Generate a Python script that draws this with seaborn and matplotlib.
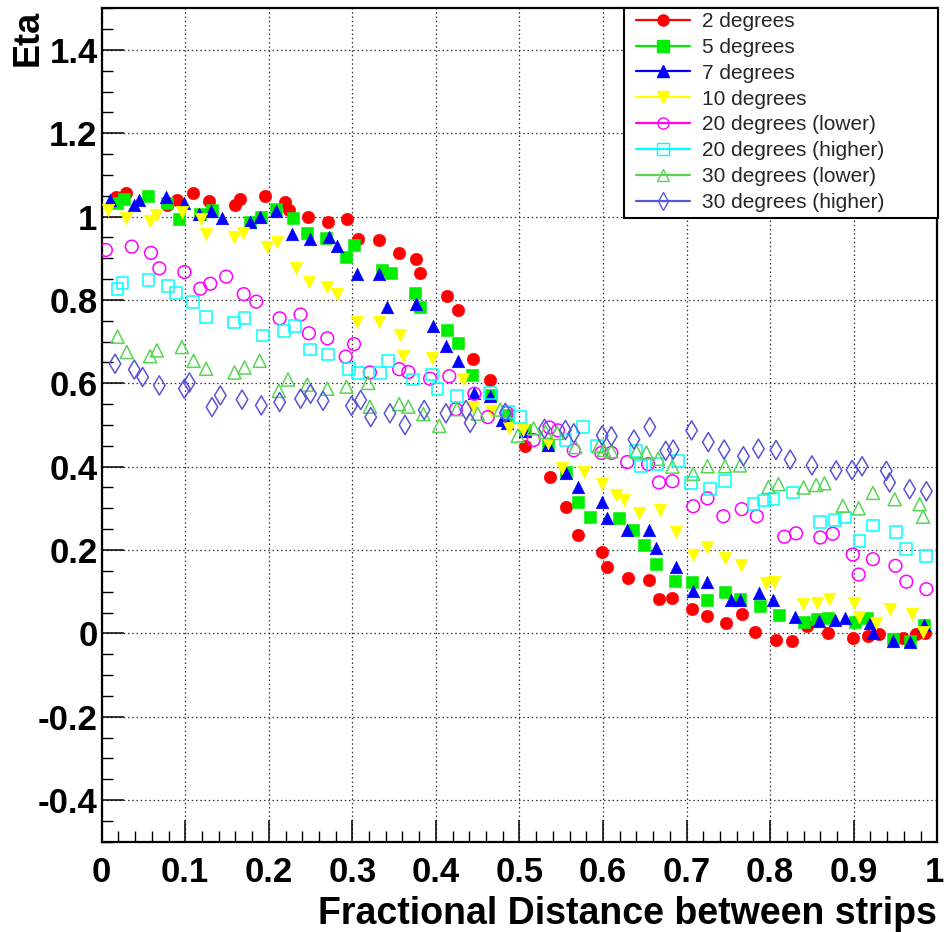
import matplotlib
matplotlib.use("Agg")
import matplotlib.pyplot as plt
from matplotlib.lines import Line2D
from matplotlib.patches import Rectangle
from matplotlib.ticker import MultipleLocator, FuncFormatter
from matplotlib.transforms import ScaledTranslation
import pandas as pd
import seaborn as sns

# Eta versus fractional distance between strips, for several incidence angles
x_2deg = [0.017, 0.029, 0.078, 0.090, 0.109, 0.129, 0.160, 0.166, 0.195, 0.219, 0.224, 0.247, 0.271, 0.293, 0.307,
          0.332, 0.356, 0.376, 0.381, 0.413, 0.427, 0.444, 0.465, 0.507, 0.536, 0.556, 0.570, 0.599, 0.605, 0.630,
          0.655, 0.667, 0.683, 0.706, 0.725, 0.747, 0.766, 0.782, 0.807, 0.826, 0.844, 0.869, 0.899, 0.917, 0.930,
          0.959, 0.975, 0.985]
y_2deg = [1.046, 1.056, 1.028, 1.040, 1.056, 1.038, 1.028, 1.042, 1.050, 1.034, 1.016, 1.000, 0.988, 0.994, 0.947,
          0.944, 0.912, 0.898, 0.864, 0.810, 0.775, 0.659, 0.609, 0.449, 0.374, 0.304, 0.235, 0.196, 0.160, 0.132,
          0.128, 0.083, 0.086, 0.058, 0.042, 0.026, 0.046, 0.004, -0.015, -0.018, 0.017, 0.002, -0.010, -0.006, -0.002,
          -0.010, -0.002, 0.001]

x_5deg = [0.018, 0.027, 0.056, 0.078, 0.093, 0.118, 0.132, 0.178, 0.191, 0.209, 0.229, 0.246, 0.269, 0.292, 0.302,
          0.335, 0.346, 0.375, 0.381, 0.413, 0.426, 0.443, 0.466, 0.485, 0.507, 0.534, 0.556, 0.570, 0.585, 0.619,
          0.636, 0.649, 0.663, 0.686, 0.706, 0.724, 0.746, 0.764, 0.788, 0.811, 0.840, 0.856, 0.869, 0.902, 0.916,
          0.947, 0.967, 0.984]
y_5deg = [1.032, 1.042, 1.049, 1.033, 0.994, 1.006, 1.017, 0.988, 1.000, 1.018, 0.996, 0.961, 0.948, 0.903, 0.932,
          0.872, 0.864, 0.817, 0.784, 0.729, 0.697, 0.621, 0.573, 0.525, 0.489, 0.453, 0.387, 0.314, 0.280, 0.276,
          0.248, 0.213, 0.167, 0.125, 0.124, 0.081, 0.099, 0.082, 0.065, 0.044, 0.027, 0.035, 0.038, 0.028, 0.037,
          -0.014, -0.018, 0.020]

x_7deg = [0.010, 0.039, 0.045, 0.077, 0.099, 0.117, 0.131, 0.144, 0.178, 0.190, 0.209, 0.228, 0.249, 0.272, 0.282,
          0.306, 0.332, 0.341, 0.376, 0.396, 0.412, 0.426, 0.445, 0.465, 0.479, 0.485, 0.507, 0.534, 0.556, 0.570,
          0.599, 0.605, 0.629, 0.655, 0.664, 0.687, 0.708, 0.725, 0.753, 0.764, 0.787, 0.804, 0.830, 0.859, 0.878,
          0.890, 0.919, 0.923, 0.947, 0.967, 0.984]
y_7deg = [1.040, 1.029, 1.041, 1.047, 1.033, 1.006, 1.013, 0.996, 0.986, 0.999, 1.014, 0.958, 0.946, 0.952, 0.930,
          0.862, 0.862, 0.784, 0.790, 0.737, 0.689, 0.654, 0.577, 0.569, 0.513, 0.505, 0.485, 0.453, 0.384, 0.351,
          0.314, 0.277, 0.249, 0.247, 0.205, 0.160, 0.102, 0.123, 0.080, 0.081, 0.097, 0.080, 0.040, 0.029, 0.031,
          0.037, 0.026, 0.002, -0.018, -0.020, 0.019]

x_10deg = [0.008, 0.029, 0.058, 0.065, 0.096, 0.119, 0.125, 0.158, 0.169, 0.198, 0.210, 0.232, 0.248, 0.270, 0.282,
           0.306, 0.332, 0.357, 0.361, 0.395, 0.432, 0.444, 0.466, 0.487, 0.504, 0.534, 0.551, 0.577, 0.599, 0.615,
           0.625, 0.643, 0.668, 0.687, 0.708, 0.725, 0.746, 0.765, 0.795, 0.805, 0.839, 0.856, 0.870, 0.900, 0.906,
           0.927, 0.943, 0.970, 0.983]
y_10deg = [1.016, 0.997, 0.989, 1.004, 1.011, 0.995, 0.959, 0.950, 0.961, 0.927, 0.938, 0.876, 0.842, 0.831, 0.815,
           0.746, 0.746, 0.716, 0.666, 0.660, 0.610, 0.542, 0.533, 0.493, 0.487, 0.456, 0.396, 0.386, 0.358, 0.332,
           0.320, 0.289, 0.295, 0.244, 0.187, 0.208, 0.181, 0.163, 0.122, 0.123, 0.071, 0.074, 0.082, 0.072, 0.040,
           0.024, 0.059, 0.046, 0.004]

x_20deg_low = [0.005, 0.036, 0.059, 0.069, 0.099, 0.118, 0.130, 0.149, 0.170, 0.185, 0.213, 0.238, 0.248, 0.270,
               0.292, 0.302, 0.321, 0.356, 0.367, 0.393, 0.416, 0.424, 0.446, 0.462, 0.485, 0.517, 0.536, 0.546,
               0.565, 0.598, 0.610, 0.629, 0.654, 0.667, 0.683, 0.708, 0.725, 0.744, 0.766, 0.784, 0.817, 0.831,
               0.860, 0.875, 0.899, 0.906, 0.923, 0.950, 0.963, 0.987]
y_20deg_low = [0.920, 0.928, 0.913, 0.876, 0.867, 0.827, 0.839, 0.856, 0.814, 0.796, 0.756, 0.765, 0.720, 0.708,
               0.664, 0.694, 0.626, 0.634, 0.627, 0.611, 0.617, 0.538, 0.575, 0.519, 0.529, 0.464, 0.494, 0.487,
               0.439, 0.433, 0.433, 0.411, 0.406, 0.362, 0.365, 0.305, 0.324, 0.281, 0.298, 0.281, 0.232, 0.240,
               0.230, 0.239, 0.189, 0.141, 0.178, 0.162, 0.124, 0.106]

x_20deg_high = [0.019, 0.025, 0.056, 0.079, 0.089, 0.109, 0.125, 0.158, 0.171, 0.193, 0.218, 0.231, 0.249, 0.271,
                0.296, 0.307, 0.333, 0.343, 0.373, 0.395, 0.402, 0.425, 0.465, 0.486, 0.501, 0.555, 0.576, 0.593,
                0.639, 0.645, 0.665, 0.690, 0.705, 0.728, 0.746, 0.780, 0.793, 0.804, 0.827, 0.860, 0.878, 0.890,
                0.907, 0.923, 0.951, 0.963, 0.987]
y_20deg_high = [0.826, 0.840, 0.848, 0.834, 0.817, 0.795, 0.759, 0.746, 0.757, 0.715, 0.725, 0.737, 0.681, 0.669,
                0.634, 0.625, 0.625, 0.654, 0.609, 0.621, 0.586, 0.569, 0.576, 0.531, 0.520, 0.464, 0.495, 0.450,
                0.438, 0.402, 0.407, 0.413, 0.361, 0.346, 0.365, 0.310, 0.319, 0.322, 0.338, 0.268, 0.272, 0.278,
                0.222, 0.259, 0.243, 0.203, 0.186]

x_30deg_low = [0.019, 0.030, 0.058, 0.066, 0.096, 0.110, 0.125, 0.159, 0.171, 0.189, 0.212, 0.223, 0.246, 0.270,
               0.293, 0.319, 0.321, 0.356, 0.367, 0.385, 0.404, 0.425, 0.450, 0.477, 0.498, 0.517, 0.531, 0.545,
               0.567, 0.595, 0.601, 0.610, 0.640, 0.652, 0.666, 0.683, 0.708, 0.725, 0.746, 0.764, 0.798, 0.810,
               0.840, 0.855, 0.865, 0.887, 0.906, 0.923, 0.949, 0.979, 0.983]
y_30deg_low = [0.712, 0.675, 0.665, 0.679, 0.687, 0.654, 0.635, 0.626, 0.638, 0.654, 0.582, 0.609, 0.597, 0.587,
               0.592, 0.601, 0.544, 0.550, 0.544, 0.526, 0.498, 0.538, 0.527, 0.537, 0.474, 0.492, 0.483, 0.481,
               0.447, 0.449, 0.440, 0.437, 0.436, 0.434, 0.419, 0.400, 0.383, 0.401, 0.401, 0.403, 0.351, 0.358,
               0.350, 0.356, 0.360, 0.306, 0.300, 0.337, 0.322, 0.310, 0.280]

x_30deg_high = [0.016, 0.039, 0.049, 0.069, 0.099, 0.105, 0.132, 0.142, 0.168, 0.191, 0.213, 0.238, 0.250, 0.265,
                0.299, 0.310, 0.322, 0.345, 0.363, 0.386, 0.412, 0.436, 0.441, 0.483, 0.530, 0.555, 0.565, 0.599,
                0.610, 0.637, 0.656, 0.675, 0.684, 0.706, 0.726, 0.745, 0.768, 0.786, 0.807, 0.824, 0.850, 0.879,
                0.898, 0.910, 0.939, 0.943, 0.967, 0.987]
y_30deg_high = [0.647, 0.633, 0.615, 0.595, 0.587, 0.602, 0.543, 0.571, 0.561, 0.547, 0.555, 0.563, 0.575, 0.558,
                0.546, 0.560, 0.519, 0.528, 0.500, 0.536, 0.528, 0.536, 0.505, 0.529, 0.491, 0.488, 0.480, 0.475,
                0.473, 0.465, 0.495, 0.438, 0.441, 0.487, 0.459, 0.441, 0.425, 0.443, 0.440, 0.417, 0.403, 0.391,
                0.392, 0.401, 0.390, 0.362, 0.346, 0.341]

series_labels = ["2 degrees", "5 degrees", "7 degrees", "10 degrees",
                 "20 degrees (lower)", "20 degrees (higher)", "30 degrees (lower)", "30 degrees (higher)"]
series_x = [x_2deg, x_5deg, x_7deg, x_10deg, x_20deg_low, x_20deg_high, x_30deg_low, x_30deg_high]
series_y = [y_2deg, y_5deg, y_7deg, y_10deg, y_20deg_low, y_20deg_high, y_30deg_low, y_30deg_high]

x_ticks = [0.0, 0.1, 0.2, 0.3, 0.4, 0.5, 0.6, 0.7, 0.8, 0.9, 1.0]
y_ticks = [-0.4, -0.2, 0.0, 0.2, 0.4, 0.6, 0.8, 1.0, 1.2, 1.4]

# marker styling per series: colour, marker, filled?, area (pt^2)
styles = [
    ("#ff0000", "o", True, 80),
    ("#00ee00", "s", True, 68),
    ("#0000ff", "^", True, 82),
    ("#ffff00", "v", True, 82),
    ("#ff00ff", "o", False, 84),
    ("#00ffff", "s", False, 72),
    ("#59d454", "^", False, 88),
    ("#5954d9", "d", False, 95),
]

sns.set_theme(style="white")
plt.rcParams["font.family"] = ["Liberation Sans", "DejaVu Sans"]

fig = plt.figure(figsize=(9.45, 9.32), dpi=100)
ax = fig.add_axes([0.1076, 0.0969, 0.8842, 0.8942])

for label, xs, ys, (color, marker, filled, area) in zip(series_labels, series_x, series_y, styles):
    frame = pd.DataFrame({"distance": xs, "eta": ys})
    if filled:
        sns.scatterplot(data=frame, x="distance", y="eta", ax=ax, color=color, marker=marker, s=area,
                        edgecolor=color, linewidth=0.4, legend=False, zorder=3)
    else:
        sns.scatterplot(data=frame, x="distance", y="eta", ax=ax, color=color, marker=marker, s=area,
                        facecolor="none", edgecolor=color, linewidth=1.1, legend=False, zorder=3)

ax.set_xlim(0, 1)
ax.set_ylim(-0.5, 1.5)
ax.set_xticks(x_ticks)
ax.set_yticks(y_ticks)
ax.xaxis.set_minor_locator(MultipleLocator(0.02))
ax.yaxis.set_minor_locator(MultipleLocator(0.05))
fmt = FuncFormatter(lambda v, _: f"{v:g}" if abs(v) > 1e-9 else "0")
ax.xaxis.set_major_formatter(fmt)
ax.yaxis.set_major_formatter(fmt)

ax.tick_params(axis="both", which="major", direction="in", length=16, width=1.1, color="black",
               bottom=True, left=True, top=False, right=False)
ax.tick_params(axis="both", which="minor", direction="in", length=8, width=1.0, color="black",
               bottom=True, left=True, top=False, right=False)
ax.tick_params(axis="x", which="major", pad=10, labelsize=25)
ax.tick_params(axis="y", which="major", pad=3, labelsize=25)
for lab in ax.get_xticklabels() + ax.get_yticklabels():
    lab.set_fontweight("bold")
    lab.set_color("black")
# keep the final "1" label inside the figure edge
last_x_label = ax.get_xticklabels()[-1]
last_x_label.set_transform(last_x_label.get_transform() + ScaledTranslation(-3 / 100, 0, fig.dpi_scale_trans))

ax.grid(True, which="major", linestyle=(0, (1.2, 2.2)), color="#333333", linewidth=0.9)
ax.set_axisbelow(True)
for sp in ax.spines.values():
    sp.set_visible(True)
    sp.set_color("black")
    sp.set_linewidth(1.6)

ax.set_xlabel("Fractional Distance between strips", loc="right", fontsize=27, fontweight="bold",
              color="black", labelpad=5)
ax.set_ylabel("Eta", loc="top", fontsize=26, fontweight="bold", color="black")
ax.yaxis.set_label_coords(-0.067, 0.998)

# legend box in the upper-right corner
fig.patches.append(Rectangle((624 / 945, 1 - 218 / 932), 314 / 945, 210 / 932, transform=fig.transFigure,
                             facecolor="white", edgecolor="black", linewidth=1.5, zorder=4))
handles = []
for label, (color, marker, filled, area) in zip(series_labels, styles):
    handles.append(Line2D([0], [0], color=color, lw=1.6, marker=marker, markersize=8 if marker != "d" else 9,
                          markerfacecolor=color if filled else "none", markeredgecolor=color,
                          markeredgewidth=1.0, label=label))
leg = fig.legend(handles=handles, loc="upper left", bbox_to_anchor=(636 / 945, 1 - 12 / 932),
                 frameon=False, fontsize=15, borderpad=0, borderaxespad=0, handlelength=2.6,
                 handletextpad=0.55, labelspacing=0.33)
leg.set_zorder(5)

fig.savefig("out.png", dpi=100, facecolor="white")
